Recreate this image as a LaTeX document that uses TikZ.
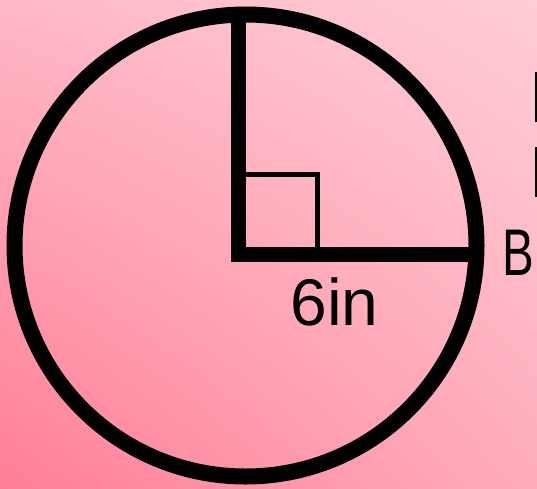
\documentclass[tikz,border=0pt]{standalone}
\usepackage{fontspec}
\setmainfont{Liberation Sans}
\usetikzlibrary{shadings}
\definecolor{pinkUR}{HTML}{FFCDD6}
\definecolor{pinkUL}{HTML}{FFB8C6}
\definecolor{pinkLR}{HTML}{FFACBC}
\definecolor{pinkLL}{HTML}{FF7E96}
\tikzset{
  rim/.style={draw=black,line width=16pt},          % circle outline
  rline/.style={draw=black,line width=15pt},        % radius segments
  rmark/.style={draw=black,line width=4.5pt},       % right-angle box
  lbl/.style={font=\fontsize{66}{70}\selectfont,inner sep=0pt},
}

\begin{document}
\begin{tikzpicture}[x=1pt,y=-1pt]
  \useasboundingbox (0,0) rectangle (537,488);
  \shade[upper left=pinkUL,upper right=pinkUR,lower left=pinkLL,lower right=pinkLR]
    (0,0) rectangle (537,488);
  % circle and its centre
  \coordinate (C) at (245.5,245.5);
  \draw[rim] (C) circle (231pt);
  \coordinate (O) at (238,254);
  \coordinate (T) at (238,13);
  \coordinate (Ob) at (238,261.5);
  \coordinate (Ol) at (230.5,254);
  \coordinate (R) at (476,254);
  \draw[rline] (T) -- (Ob);
  \draw[rline] (Ol) -- (R);
  % right angle
  \draw[rmark] (238,174.5) -- (317.5,174.5) -- (317.5,254);
  \node[lbl,anchor=base] (len) at (334.5,325) {6in};
  \node[lbl,anchor=base west] (ptB) at (502,275) {\scalebox{0.72}[1]{B}};
  % clipped letters at the right edge
  \fill[black] (534.5,72) rectangle (537,122);
  \fill[black] (534.5,147) rectangle (537,197);
\end{tikzpicture}
\end{document}
